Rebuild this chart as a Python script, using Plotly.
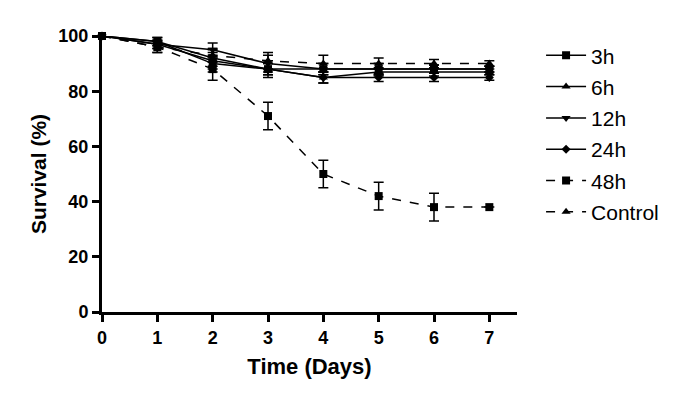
import plotly.graph_objects as go

days = [0, 1, 2, 3, 4, 5, 6, 7]

names = ["3h", "6h", "12h", "24h", "48h", "Control"]
s_3h = [100, 98, 90, 88, 88, 88, 88, 88]
e_3h = [0, 1.5, 3, 2, 2, 2, 1.5, 1]
s_6h = [100, 98, 92, 88, 85, 87, 87, 87]
e_6h = [0, 1.5, 3, 2, 2, 1.5, 1.5, 1]
s_12h = [100, 97, 95, 90, 88, 88, 88, 88]
e_12h = [0, 1.5, 2.5, 3, 2, 2, 1.5, 1]
s_24h = [100, 97, 91, 88, 85, 85, 85, 85]
e_24h = [0, 1.5, 3, 3, 2, 1.5, 1.5, 1]
s_48h = [100, 96, 88, 71, 50, 42, 38, 38]
e_48h = [0, 2, 4, 5, 5, 5, 5, 0]
s_ctrl = [100, 96, 93, 91, 90, 90, 90, 90]
e_ctrl = [0, 2, 2.5, 3, 3, 2, 1.5, 1]

x_ticks = [0, 1, 2, 3, 4, 5, 6, 7]
y_ticks = [0, 20, 40, 60, 80, 100]

series = [
    ("3h", s_3h, e_3h, "square", 8, "solid"),
    ("6h", s_6h, e_6h, "triangle-up", 8, "solid"),
    ("12h", s_12h, e_12h, "triangle-down", 8, "solid"),
    ("24h", s_24h, e_24h, "diamond", 7, "solid"),
    ("48h", s_48h, e_48h, "square", 8, "dash"),
    ("Control", s_ctrl, e_ctrl, "triangle-up", 8, "dash"),
]

fig = go.Figure()
for name, ys, es, sym, size, dash in series:
    fig.add_trace(go.Scatter(
        x=days, y=ys, name=name, mode="lines+markers",
        legendgroup=name,
        line=dict(color="black", width=1.5, dash=dash),
        marker=dict(symbol=sym, size=size, color="black"),
        error_y=dict(type="data", array=es, visible=True, color="black", thickness=1.5, width=5),
        cliponaxis=False,
    ))

font = "Arial, Liberation Sans, sans-serif"
fig.update_layout(
    width=677, height=399,
    margin=dict(l=94, r=168, t=28, b=95, autoexpand=False),
    plot_bgcolor="white", paper_bgcolor="white",
    showlegend=True,
    legend=dict(x=1.058, y=1.003, xanchor="left", yanchor="top",
                font=dict(family=font, size=21, color="black"),
                tracegroupgap=1, itemwidth=40, bgcolor="rgba(0,0,0,0)",
                maxheight=400),
    xaxis=dict(range=[0, 7.5], tickvals=x_ticks, ticktext=[str(v) for v in x_ticks],
               showgrid=False, zeroline=False, showline=True, linecolor="black", linewidth=3,
               ticks="outside", ticklen=7, tickwidth=3, tickcolor="black",
               tickfont=dict(family=font, size=18, color="black", weight="bold"),
               title=dict(text="<b>Time (Days)</b>", font=dict(family=font, size=22, color="black"), standoff=13)),
    yaxis=dict(range=[0, 100], tickvals=y_ticks, ticktext=[str(v) for v in y_ticks],
               showgrid=False, zeroline=False, showline=True, linecolor="black", linewidth=3,
               ticks="outside", ticklen=7, tickwidth=3, tickcolor="black",
               tickfont=dict(family=font, size=18, color="black", weight="bold"),
               title=dict(text="<b>Survival (%)</b>", font=dict(family=font, size=21, color="black"), standoff=7)),
)

fig.write_html("out.html")
